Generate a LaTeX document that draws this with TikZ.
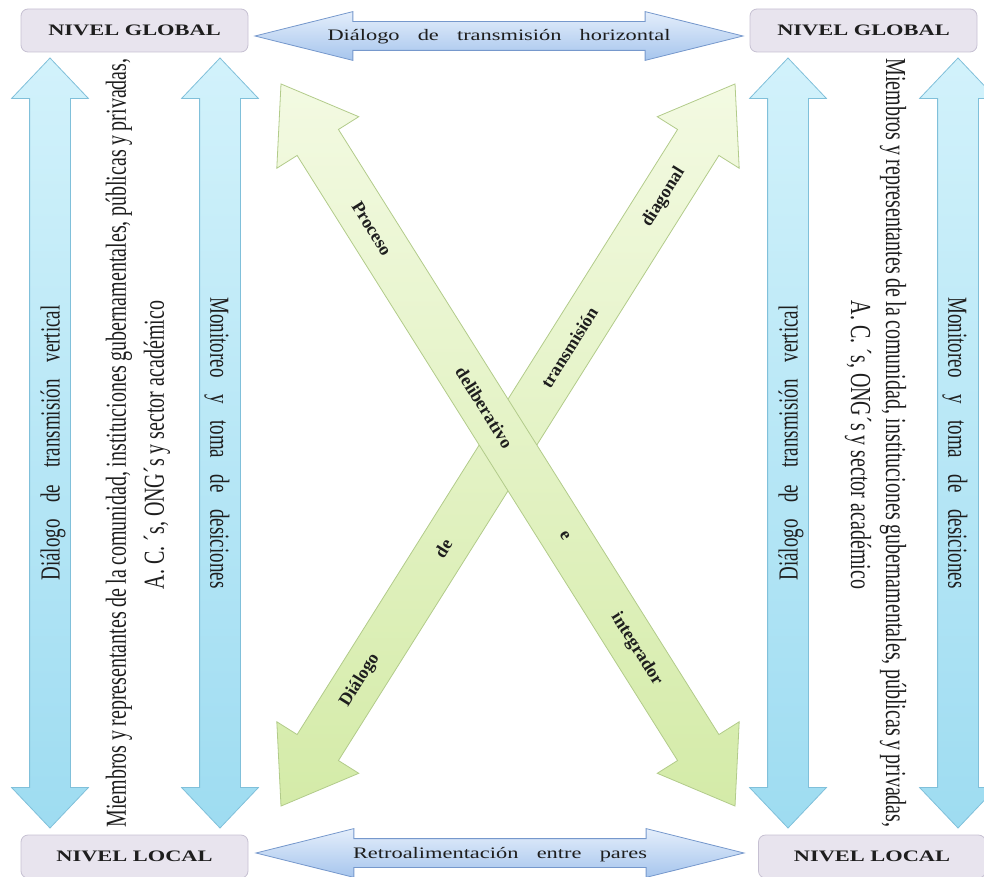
\documentclass[tikz,border=0pt]{standalone}
\usepackage{graphicx}
\usepackage{fontspec}
\setmainfont{Liberation Serif}
\usetikzlibrary{shapes.arrows,calc}

\definecolor{boxfill}{RGB}{232,228,238}
\definecolor{boxline}{RGB}{198,192,210}
\definecolor{vlight}{RGB}{210,242,251}
\definecolor{vdark}{RGB}{158,220,241}
\definecolor{vline}{RGB}{128,192,218}
\definecolor{hlight}{RGB}{228,238,251}
\definecolor{hdark}{RGB}{166,197,237}
\definecolor{hline}{RGB}{118,152,204}
\definecolor{glight}{RGB}{243,250,226}
\definecolor{gdark}{RGB}{212,235,168}
\definecolor{gline}{RGB}{178,203,138}
\definecolor{ink}{RGB}{30,30,30}

\newcommand{\widetext}[1]{\scalebox{1.4}[1]{#1}}
\newcommand{\talltext}[1]{\scalebox{1}[1.45]{#1}}

\begin{document}
\begin{tikzpicture}[x=1pt, y=-1pt, thick, text=ink,
    nivel/.style={draw=boxline, fill=boxfill, rounded corners=7pt, minimum width=227pt,
        minimum height=43pt, inner sep=0pt, font=\fontsize{16}{19}\selectfont\bfseries},
    varrow/.style={double arrow, draw=vline, top color=vlight, bottom color=vdark,
        minimum height=770pt, minimum width=76pt, double arrow head extend=18pt,
        double arrow tip angle=87, inner sep=0pt, text height=29.6pt, text depth=10.4pt,
        font=\fontsize{19}{23}\selectfont},
    harrow/.style={double arrow, draw=hline, top color=hlight, bottom color=hdark,
        minimum height=488pt, minimum width=48pt, double arrow head extend=10pt,
        double arrow tip angle=28, inner sep=0pt, text height=19pt, text depth=9pt,
        font=\fontsize{16}{19}\selectfont},
    garrow/.style={double arrow, draw=gline, top color=glight, bottom color=gdark,
        minimum height=853pt, minimum width=96pt, double arrow head extend=24pt,
        double arrow tip angle=70, inner xsep=0pt, inner ysep=24pt},
    vtext/.style={inner sep=0pt, font=\fontsize{20}{24}\selectfont},
    gtext/.style={inner sep=0pt, font=\fontsize{18}{21}\selectfont\bfseries}]
    \useasboundingbox (0,0) rectangle (984,877);

    \node[varrow, rotate=90] (vert1) at (50,443) {\talltext{\makebox[275pt][s]{Diálogo de transmisión vertical}}};
    \node[varrow, rotate=-90] (moni1) at (220,443) {\talltext{\makebox[291pt][s]{Monitoreo y toma de desiciones}}};
    \node[varrow, rotate=90] (vert2) at (788,443) {\talltext{\makebox[275pt][s]{Diálogo de transmisión vertical}}};
    \node[varrow, rotate=-90] (moni2) at (958,443) {\talltext{\makebox[291pt][s]{Monitoreo y toma de desiciones}}};

    \node[vtext, rotate=90] (miem1) at (119,443) {\talltext{\makebox[769pt][s]{Miembros y representantes de la comunidad, instituciones gubernamentales, públicas y privadas,}}};
    \node[vtext, rotate=90] (ac1) at (157,445) {\talltext{A. C. ´s, ONG´s y sector académico}};
    \node[vtext, rotate=-90] (miem2) at (893,443) {\talltext{\makebox[769pt][s]{Miembros y representantes de la comunidad, instituciones gubernamentales, públicas y privadas,}}};
    \node[vtext, rotate=-90] (ac2) at (858,445) {\talltext{A. C. ´s, ONG´s y sector académico}};

    \node[harrow] (horiz) at (499,36) {\widetext{\makebox[245pt][s]{Diálogo de transmisión horizontal}}};
    \node[harrow] (retro) at (500,853) {\widetext{\makebox[210pt][s]{Retroalimentación entre pares}}};

    \node[nivel] (glob1) at (134.5,30.5) {\widetext{NIVEL GLOBAL}};
    \node[nivel] (glob2) at (863.5,30.5) {\widetext{NIVEL GLOBAL}};
    \node[nivel] (loc1) at (134.5,856.5) {\widetext{NIVEL LOCAL}};
    \node[nivel] (loc2) at (872,856.5) {\widetext{NIVEL LOCAL}};

    \coordinate (a1) at (281,806);
    \coordinate (a2) at (735,84);
    \coordinate (b1) at (281,84);
    \coordinate (b2) at (735,806);

    \node[garrow, rotate=57.84] (diag) at ($(a1)!0.5!(a2)$) {};
    \node[gtext, rotate=57.84] at ($(a1)!0.174!(a2)$) {Diálogo};
    \node[gtext, rotate=57.84] at ($(a1)!0.357!(a2)$) {de};
    \node[gtext, rotate=57.84] at ($(a1)!0.635!(a2)$) {transmisión};
    \node[gtext, rotate=57.84] at ($(a1)!0.843!(a2)$) {diagonal};

    \node[garrow, rotate=-57.84] (proc) at ($(b1)!0.5!(b2)$) {};
    \node[gtext, rotate=-57.84] at ($(b1)!0.2!(b2)$) {Proceso};
    \node[gtext, rotate=-57.84] at ($(b1)!0.448!(b2)$) {deliberativo};
    \node[gtext, rotate=-57.84] at ($(b1)!0.625!(b2)$) {e};
    \node[gtext, rotate=-57.84] at ($(b1)!0.783!(b2)$) {integrador};
\end{tikzpicture}
\end{document}
